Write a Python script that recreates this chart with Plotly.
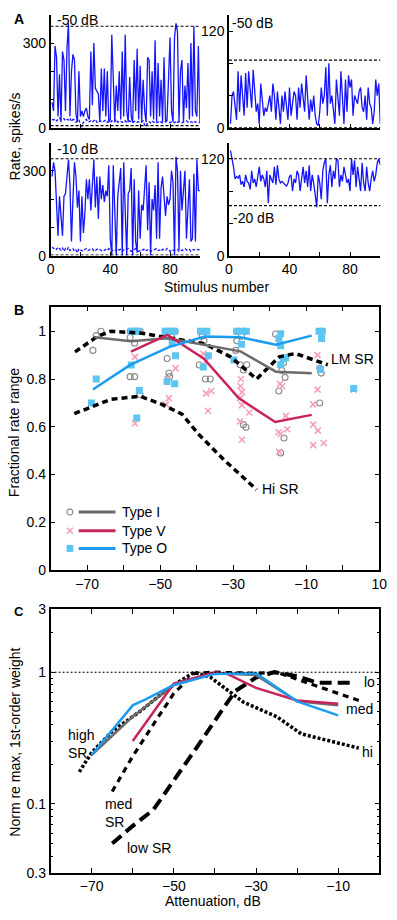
import plotly.graph_objects as go

W, H = 397, 920
FONT = "Liberation Sans, Arial, Helvetica, sans-serif"
FS = 14

# ---------------- Panel A data (rate per stimulus) ----------------
A_LT_rate = [90, 60, 290, 250, 40, 190, 20, 270, 240, 60, 280, 370, 40, 200, 260, 240, 50, 20, 200, 40,
             60, 40, 60, 70, 40, 30, 270, 80, 300, 140, 130, 120, 20, 210, 60, 210, 40, 200, 20, 30,
             330, 180, 20, 150, 60, 200, 30, 270, 40, 330, 60, 20, 180, 40, 20, 240, 60, 280, 30, 220,
             20, 170, 60, 20, 250, 240, 40, 200, 30, 310, 20, 230, 40, 170, 20, 250, 20, 30, 150, 320,
             60, 20, 320, 370, 340, 20, 200, 240, 20, 150, 70, 230, 30, 300, 40, 360, 60, 40, 290, 20]
A_LT_spont = [30, 28, 32, 25, 30, 35, 28, 30, 33, 25, 30, 28, 35, 22, 30, 28, 20, 25, 30, 10,
              5, 20, 25, 30, 20, 22, 25, 20, 25, 30, 20, 18, 25, 22, 20, 25, 28, 20, 22, 18,
              25, 20, 22, 30, 20, 25, 22, 20, 18, 25, 20, 22, 25, 20, 18, 22, 25, 20, 22, 18,
              20, 25, 10, 5, 20, 22, 18, 25, 20, 22, 18, 20, 25, 20, 18, 20, 22, 25, 20, 18,
              22, 20, 18, 25, 20, 22, 20, 18, 20, 22, 25, 20, 18, 22, 20, 25, 20, 22, 20, 18]
A_LB_rate = [280, 330, 300, 200, 70, 210, 140, 70, 210, 220, 280, 340, 250, 50, 200, 330, 280, 170, 230, 50,
             210, 80, 150, 270, 200, 270, 160, 260, 340, 170, 280, 130, 280, 200, 250, 190, 230, 210, 320, 60,
             0, 320, 150, 0, 210, 260, 310, 0, 330, 160, 0, 220, 230, 310, 0, 270, 50, 10, 230, 60,
             180, 160, 240, 320, 90, 260, 0, 200, 160, 250, 60, 330, 60, 240, 280, 190, 140, 210, 180, 200,
             300, 260, 0, 350, 300, 20, 300, 160, 250, 300, 60, 180, 270, 50, 60, 290, 50, 340, 230, 230]
A_LB_spont = [30, 25, 28, 22, 30, 25, 20, 28, 15, 25, 20, 30, 18, 22, 25, 15, 20, 10, 25, 20,
              18, 15, 22, 25, 18, 20, 22, 25, 15, 20, 22, 25, 20, 18, 15, 20, 22, 18, 25, 20,
              15, 22, 20, 18, 25, 20, 22, 15, 20, 18, 22, 25, 20, 15, 18, 22, 25, 20, 15, 18,
              22, 20, 25, 18, 20, 22, 15, 18, 20, 22, 25, 18, 20, 15, 22, 20, 18, 25, 20, 15,
              22, 20, 18, 20, 22, 15, 20, 18, 22, 25, 20, 18, 22, 15, 20, 22, 18, 20, 22, 20]
A_RT_rate = [5, 40, 45, 30, 10, 70, 20, 65, 40, 15, 68, 25, 70, 50, 25, 72, 45, 20, 30, 5,
             55, 30, 15, 25, 20, 30, 40, 20, 55, 40, 10, 45, 25, 5, 40, 20, 45, 30, 10, 50,
             15, 30, 45, 40, 10, 50, 25, 55, 40, 20, 65, 30, 10, 35, 20, 40, 15, 5, 3, 20,
             50, 30, 40, 75, 15, 80, 30, 40, 25, 5, 60, 40, 15, 70, 30, 5, 60, 20, 65, 50,
             60, 15, 40, 35, 30, 45, 50, 25, 20, 40, 10, 50, 30, 25, 5, 20, 60, 40, 55, 5]
A_RB_rate = [130, 120, 110, 95, 98, 96, 100, 88, 92, 85, 100, 92, 90, 82, 105, 90, 95, 85, 100, 110,
             92, 100, 95, 85, 105, 65, 100, 95, 90, 110, 88, 112, 95, 90, 92, 90, 88, 86, 90, 98,
             100, 80, 95, 90, 105, 100, 80, 95, 110, 90, 105, 85, 112, 80, 100, 90, 75, 60, 100, 90,
             70, 105, 115, 120, 65, 100, 112, 85, 105, 95, 120, 118, 85, 100, 92, 110, 100, 90, 95, 80,
             120, 100, 118, 85, 110, 95, 80, 115, 90, 80, 110, 90, 80, 95, 105, 92, 100, 115, 120, 112]
A_LT_refs = [360, 8]
A_LB_refs = [343, 2]
A_RT_refs = [84, 0]
A_RB_refs = [120, 62]

# ---------------- Panel B data ----------------
B_lm_x = [-73.3, -67, -63.5, -55.5, -48.4, -37.8, -30.7, -23.6, -17.4, -13, -4.1]
B_lm_y = [0.914, 0.98, 1.0, 0.993, 0.975, 0.948, 0.893, 0.80, 0.893, 0.907, 0.86]
B_hi_x = [-73.5, -68.5, -63.5, -55.5, -49.5, -44, -39.6, -32.5, -23.6]
B_hi_y = [0.655, 0.687, 0.715, 0.728, 0.694, 0.653, 0.571, 0.461, 0.337]
B_typeI_x = [-68, -58, -48, -38, -28, -18.3, -8.5]
B_typeI_y = [0.975, 0.958, 0.971, 0.944, 0.916, 0.831, 0.824]
B_typeV_x = [-58, -48, -38, -28.5, -18.5, -8.5]
B_typeV_y = [0.915, 0.985, 0.885, 0.72, 0.62, 0.65]
B_typeO_x = [-68.4, -58.2, -47.6, -37.8, -28.1, -18.3, -8.5]
B_typeO_y = [0.756, 0.859, 0.934, 0.978, 0.975, 0.944, 0.982]

I_pts_x = [-68.4, -67.5, -66.2, -58.2, -57.3, -56.4, -55.5, -58.2, -57, -58.2, -57, -55.5, -48.6, -47.3, -45.9,
           -48.2, -46.8, -48.1, -47.6, -47.4, -38.9, -37.6, -38.5, -38, -39.3, -37.6, -36.3, -29, -26.8, -27.7,
           -29, -29.3, -28.1, -27.2, -26.3, -27.2, -26.5, -18.4, -17.1, -16.2, -16.7, -15.8, -17.5, -16.1, -17,
           -6.3, -5.9, -6.3]
I_pts_y = [0.92, 0.982, 1.0, 1.0, 1.0, 1.0, 1.0, 0.974, 0.95, 0.81, 0.81, 0.735, 1.0, 1.0, 1.0,
           0.98, 0.975, 0.886, 0.824, 0.81, 1.0, 1.0, 0.98, 0.96, 0.859, 0.8, 0.8, 1.0, 1.0, 0.98,
           0.96, 0.92, 0.86, 0.838, 0.86, 0.609, 0.598, 0.989, 0.947, 0.868, 0.836, 0.807, 0.75, 0.553, 0.49,
           0.845, 0.825, 0.70]
V_pts_x = [-56.9, -56.9, -48, -45.8, -47.6, -48.4, -38.2, -37.5, -37.4, -36, -36.9, -27.9, -28, -27.6, -28.1,
           -27.6, -25.6, -28.1, -27.6, -17.2, -16.6, -17.6, -17, -15.6, -15.2, -17.4, -6.9, -6.9, -8.1, -8.1,
           -6.8, -8.1, -5.2, 3.0]
V_pts_y = [0.893, 0.614, 0.80, 0.845, 0.72, 0.694, 0.906, 0.875, 0.74, 0.75, 0.667, 0.80, 0.77, 0.745, 0.72,
           0.691, 0.66, 0.623, 0.546, 0.78, 0.77, 0.577, 0.57, 0.646, 0.59, 0.495, 0.9, 0.756, 0.694, 0.609,
           0.584, 0.523, 0.532, 0.756]
O_pts_x = [-68.8, -67.5, -57.9, -57, -56, -57.9, -55.7, -56.4, -48.6, -47.3, -46, -46.7, -45.8, -48.1, -46,
           -38.9, -37.2, -36.8, -38.2, -29, -27.7, -26.4, -27.7, -29.8, -17, -17.5, -17, -16.3, -15.6, -17,
           -6.5, -5.6, -5.8, -6.1, 3.0]
O_pts_y = [0.70, 0.80, 1.0, 1.0, 1.0, 0.859, 0.752, 0.637, 1.0, 1.0, 1.0, 0.95, 0.898, 0.79, 0.78,
           1.0, 1.0, 0.898, 0.85, 1.0, 1.0, 1.0, 0.946, 0.88, 0.99, 0.97, 0.94, 0.885, 0.889, 0.86,
           1.0, 1.0, 0.97, 0.84, 0.76]

# ---------------- Panel C data ----------------
C_hi_x = [-73, -70, -65, -58, -54, -50, -45, -41, -33, -25, -19, -10, -5]
C_hi_y = [0.175, 0.245, 0.355, 0.51, 0.645, 0.80, 1.0, 0.91, 0.59, 0.46, 0.34, 0.29, 0.265]
C_med_x = [-65, -60, -55, -50, -45, -40, -30, -25, -15, -5]
C_med_y = [0.124, 0.23, 0.40, 0.69, 0.98, 1.0, 0.98, 1.0, 0.78, 0.61]
C_low_x = [-65, -60, -55, -50, -44, -38, -35, -30, -25.5, -20, -15, -6]
C_low_y = [0.05, 0.068, 0.09, 0.15, 0.28, 0.53, 0.72, 0.91, 1.0, 0.93, 0.83, 0.83]
C_I_x = [-70, -60, -50, -40, -30, -20, -10]
C_I_y = [0.235, 0.46, 0.80, 0.98, 0.95, 0.60, 0.56]
C_V_x = [-60, -50, -40, -37, -30, -20, -10]
C_V_y = [0.30, 0.82, 1.0, 0.97, 0.76, 0.61, 0.575]
C_O_x = [-70, -65, -60, -57, -50, -40, -30, -20, -10]
C_O_y = [0.235, 0.36, 0.56, 0.62, 0.80, 0.97, 0.98, 0.60, 0.47]
C_ref = 1.0

# ---------------- colours ----------------
BLUE = "#1414ff"
GRAY = "#6b6b6b"
CRIMSON = "#c8235c"
SKY = "#1c9cf0"
PINK = "#f5a0bb"
SQ = "#5cc5f2"
CIRC = "#8a8a8a"


def px(x):
    return x / W


def py(y):
    return 1 - y / H


fig = go.Figure()


def stim(arr):
    return list(range(1, len(arr) + 1))


# Panel A traces
for arr, ax, ay in [(A_LT_rate, "x", "y"), (A_RT_rate, "x2", "y2"), (A_LB_rate, "x3", "y3"), (A_RB_rate, "x4", "y4")]:
    fig.add_trace(go.Scatter(x=stim(arr), y=arr, mode="lines", line=dict(color=BLUE, width=1.3),
                             xaxis=ax, yaxis=ay, showlegend=False))
for arr, ax, ay in [(A_LT_spont, "x", "y"), (A_LB_spont, "x3", "y3")]:
    fig.add_trace(go.Scatter(x=stim(arr), y=arr, mode="lines", line=dict(color=BLUE, width=1.3, dash="3px,2px"),
                             xaxis=ax, yaxis=ay, showlegend=False))

shapes = []
for refs, ax, ay in [(A_LT_refs, "x", "y"), (A_RT_refs, "x2", "y2"), (A_LB_refs, "x3", "y3"), (A_RB_refs, "x4", "y4")]:
    for r in refs:
        shapes.append(dict(type="line", xref=ax + " domain", yref=ay, x0=0, x1=1, y0=r, y1=r,
                           line=dict(color="black", width=1.1, dash="3px,2px")))

# Panel B scatter
fig.add_trace(go.Scatter(x=I_pts_x, y=I_pts_y, mode="markers", xaxis="x5", yaxis="y5", showlegend=False,
                         marker=dict(symbol="circle-open", size=6, color=CIRC, line=dict(width=1.1))))
fig.add_trace(go.Scatter(x=V_pts_x, y=V_pts_y, mode="markers", xaxis="x5", yaxis="y5", showlegend=False,
                         marker=dict(symbol="x-thin-open", size=6, color=PINK, line=dict(width=1.6, color=PINK))))
fig.add_trace(go.Scatter(x=O_pts_x, y=O_pts_y, mode="markers", xaxis="x5", yaxis="y5", showlegend=False,
                         marker=dict(symbol="square", size=7, color=SQ, line=dict(width=0))))
# Panel B lines
fig.add_trace(go.Scatter(x=B_lm_x, y=B_lm_y, mode="lines", xaxis="x5", yaxis="y5", showlegend=False,
                         line=dict(color="black", width=3.5, dash="6px,4px")))
fig.add_trace(go.Scatter(x=B_hi_x, y=B_hi_y, mode="lines", xaxis="x5", yaxis="y5", showlegend=False,
                         line=dict(color="black", width=3.5, dash="6px,4px")))
fig.add_trace(go.Scatter(x=B_typeI_x, y=B_typeI_y, mode="lines", xaxis="x5", yaxis="y5", showlegend=False,
                         line=dict(color=GRAY, width=2.5)))
fig.add_trace(go.Scatter(x=B_typeV_x, y=B_typeV_y, mode="lines", xaxis="x5", yaxis="y5", showlegend=False,
                         line=dict(color=CRIMSON, width=2.5)))
fig.add_trace(go.Scatter(x=B_typeO_x, y=B_typeO_y, mode="lines", xaxis="x5", yaxis="y5", showlegend=False,
                         line=dict(color=SKY, width=2.5)))

# Panel C
shapes.append(dict(type="line", xref="x6 domain", yref="y6", x0=0, x1=1, y0=C_ref, y1=C_ref,
                   line=dict(color="black", width=1.1, dash="2px,2px")))
fig.add_trace(go.Scatter(x=C_hi_x, y=C_hi_y, mode="lines", xaxis="x6", yaxis="y6", showlegend=False,
                         line=dict(color="black", width=3.5, dash="3px,2px")))
fig.add_trace(go.Scatter(x=C_med_x, y=C_med_y, mode="lines", xaxis="x6", yaxis="y6", showlegend=False,
                         line=dict(color="black", width=3.2, dash="6px,5px")))
fig.add_trace(go.Scatter(x=C_low_x, y=C_low_y, mode="lines", xaxis="x6", yaxis="y6", showlegend=False,
                         line=dict(color="black", width=4, dash="12px,6px")))
fig.add_trace(go.Scatter(x=C_I_x, y=C_I_y, mode="lines", xaxis="x6", yaxis="y6", showlegend=False,
                         line=dict(color=GRAY, width=2.5)))
fig.add_trace(go.Scatter(x=C_V_x, y=C_V_y, mode="lines", xaxis="x6", yaxis="y6", showlegend=False,
                         line=dict(color=CRIMSON, width=2.5)))
fig.add_trace(go.Scatter(x=C_O_x, y=C_O_y, mode="lines", xaxis="x6", yaxis="y6", showlegend=False,
                         line=dict(color=SKY, width=2.5)))

# Legend of panel B (drawn manually)
leg_rows = [(513, "Type I", GRAY), (532, "Type V", CRIMSON), (550, "Type O", SKY)]
annotations = []
for i, (yy, txt, col) in enumerate(leg_rows):
    shapes.append(dict(type="line", xref="paper", yref="paper", x0=px(77), x1=px(115), y0=py(yy), y1=py(yy),
                       line=dict(color=col, width=3)))
    annotations.append(dict(text=txt, x=px(120), y=py(yy), xref="paper", yref="paper", xanchor="left",
                            yanchor="middle", showarrow=False, font=dict(size=FS, family=FONT, color="black")))
# legend markers
shapes.append(dict(type="circle", xref="paper", yref="paper", x0=px(65), x1=px(71), y0=py(516), y1=py(510),
                   line=dict(color=CIRC, width=1.1)))
shapes.append(dict(type="line", xref="paper", yref="paper", x0=px(65), x1=px(71), y0=py(529), y1=py(535),
                   line=dict(color=PINK, width=1.6)))
shapes.append(dict(type="line", xref="paper", yref="paper", x0=px(65), x1=px(71), y0=py(535), y1=py(529),
                   line=dict(color=PINK, width=1.6)))
shapes.append(dict(type="rect", xref="paper", yref="paper", x0=px(64.5), x1=px(71.5), y0=py(553.5), y1=py(546.5),
                   fillcolor=SQ, line=dict(width=0)))


def ann(text, x, y, size=FS, xanchor="left", bold=False, angle=0):
    if bold:
        text = "<b>" + text + "</b>"
    annotations.append(dict(text=text, x=px(x), y=py(y), xref="paper", yref="paper", xanchor=xanchor,
                            yanchor="middle", showarrow=False, textangle=angle,
                            font=dict(size=size, family=FONT, color="black")))


ann("A", 8, 11, 14, bold=True)
ann("B", 8, 307, 14, bold=True)
ann("C", 8, 614, 13, bold=True)
ann("-50 dB", 53, 12)
ann("-50 dB", 233, 15)
ann("-10 dB", 53, 143)
ann("-20 dB", 234, 214)
ann("Rate, spikes/s", 11, 131, xanchor="center", angle=-90)
ann("Stimulus number", 219, 284, xanchor="center")
ann("Fractional rate range", 11, 432, xanchor="center", angle=-90)
ann("LM SR", 335, 357)
ann("Hi SR", 264, 490)
ann("Norm re max, 1st-order weight", 11, 747, xanchor="center", angle=-90)
ann("Attenuation, dB", 215, 909, xanchor="center")
ann("lo", 369, 686)
ann("med", 351, 713)
ann("hi", 367, 757)
ann("high", 64, 740)
ann("SR", 64, 758)
ann("med", 102, 810)
ann("SR", 102, 828)
ann("low SR", 125, 855)

tickfont = dict(size=FS, family=FONT, color="black")
common = dict(showgrid=False, zeroline=False, ticks="inside", tickcolor="black", tickfont=tickfont,
              showline=True, linecolor="black", ticklabeloverflow="allow")

xA_top = dict(common, range=[0, 100], tickvals=[0, 20, 40, 60, 80, 100], ticktext=[""] * 6,
              ticklen=4, tickwidth=1.3, linewidth=2)
xA_bot = dict(common, range=[0, 100], tickvals=[0, 20, 40, 60, 80, 100],
              ticktext=["0", "", "40", "", "80", ""], ticklen=4, tickwidth=1.3, linewidth=2)
yA_left = dict(common, range=[0, 400], tickvals=[0, 100, 200, 300, 400], ticktext=["0", "", "", "300", ""],
               ticklen=4, tickwidth=1.3, linewidth=1.5)
yA_right = dict(common, range=[0, 140], tickvals=[0, 40, 80, 120, 140], ticktext=["0", "", "", "120", ""],
                ticklen=4, tickwidth=1.3, linewidth=1.5)

xL = [px(48), px(202)]
xR = [px(232), px(388)]
yTop = [py(122), py(7)]
yBot = [py(252), py(137)]

fig.update_layout(
    width=W, height=H, margin=dict(l=0, r=0, t=0, b=0),
    paper_bgcolor="white", plot_bgcolor="white", showlegend=False,
    xaxis=dict(xA_top, domain=xL, anchor="y"),
    yaxis=dict(yA_left, domain=yTop, anchor="x"),
    xaxis2=dict(xA_top, domain=xR, anchor="y2"),
    yaxis2=dict(yA_right, domain=yTop, anchor="x2"),
    xaxis3=dict(xA_bot, domain=xL, anchor="y3"),
    yaxis3=dict(yA_left, domain=yBot, anchor="x3"),
    xaxis4=dict(xA_bot, domain=xR, anchor="y4"),
    yaxis4=dict(yA_right, domain=yBot, anchor="x4"),
    xaxis5=dict(common, domain=[px(48), px(387)], anchor="y5", range=[-80, 10], mirror="allticks",
                tickvals=[-70, -60, -50, -40, -30, -20, -10, 0, 10],
                ticktext=["\u221270", "", "\u221250", "", "\u221230", "", "\u221210", "", "10"],
                ticklen=5, tickwidth=1.2, linewidth=1.5),
    yaxis5=dict(common, domain=[py(572), py(304)], anchor="x5", range=[0, 1.103], mirror="allticks",
                tickvals=[0, 0.2, 0.4, 0.6, 0.8, 1], ticktext=["0", "0.2", "0.4", "0.6", "0.8", "1"],
                ticklen=5, tickwidth=1.2, linewidth=1.5),
    xaxis6=dict(common, domain=[px(48), px(387)], anchor="y6", range=[-80, 0], mirror="allticks",
                tickvals=[-70, -60, -50, -40, -30, -20, -10],
                ticktext=["\u221270", "", "\u221250", "", "\u221230", "", "\u221210"],
                ticklen=5, tickwidth=1.2, linewidth=1.5),
    yaxis6=dict(common, domain=[py(880), py(612)], anchor="x6", type="log",
                range=[-1.5229, 0.4771], mirror="allticks",
                tickvals=[0.03, 0.1, 1, 3], ticktext=["0.3", "0.1", "1", "3"],
                ticklen=5, tickwidth=1.2, linewidth=1.5,
                minor=dict(ticks="inside", ticklen=3, tickcolor="black",
                           tickvals=[0.04, 0.05, 0.06, 0.07, 0.08, 0.09, 0.2, 0.3, 0.4, 0.5,
                                     0.6, 0.7, 0.8, 0.9, 2])),
    shapes=shapes, annotations=annotations,
)

fig.write_html("out.html", config={"displayModeBar": False},
               post_script="document.body.style.margin='0';document.body.style.overflow='hidden';")
